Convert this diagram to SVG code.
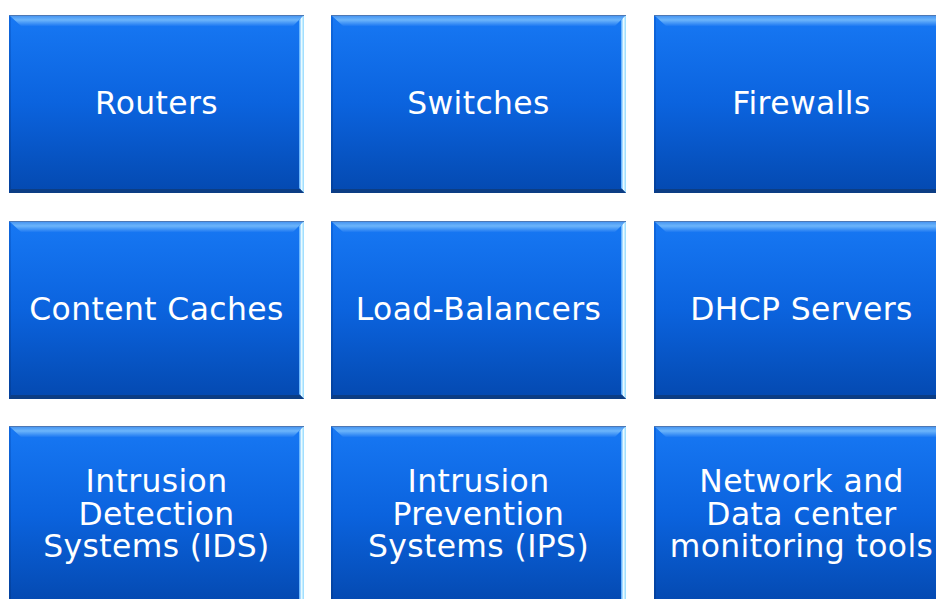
<svg xmlns="http://www.w3.org/2000/svg" xmlns:xlink="http://www.w3.org/1999/xlink" width="936" height="599" viewBox="0 0 936 599">
  <defs>
    <style>
      .label { font-family: "DejaVu Sans", Verdana, sans-serif; font-size: 31.4px; letter-spacing: 0.4px; fill: #ffffff; text-anchor: middle; }
    </style>
    <!-- face gradient -->
    <linearGradient id="face" x1="0" y1="0" x2="0" y2="1">
      <stop offset="0" stop-color="#1778f4"/>
      <stop offset="0.5" stop-color="#0b63de"/>
      <stop offset="1" stop-color="#0449b0"/>
    </linearGradient>
    <!-- top bevel highlight -->
    <linearGradient id="bevelTop" x1="0" y1="0" x2="0" y2="1">
      <stop offset="0" stop-color="#3f8ff0"/>
      <stop offset="0.45" stop-color="#6cb5fb"/>
      <stop offset="1" stop-color="#1d79f2"/>
    </linearGradient>
    <!-- right bevel highlight -->
    <linearGradient id="bevelRight" x1="0" y1="0" x2="1" y2="0">
      <stop offset="0" stop-color="#4aa6ff"/>
      <stop offset="0.5" stop-color="#e8fbff"/>
      <stop offset="1" stop-color="#8fd8ff"/>
    </linearGradient>
    <linearGradient id="bevelLeft" x1="0" y1="0" x2="0" y2="1">
      <stop offset="0" stop-color="#0f68e0"/>
      <stop offset="1" stop-color="#03409c"/>
    </linearGradient>

    <!-- one bevelled tile, 295 x 178 -->
    <g id="tile">
      <rect x="0" y="0" width="295" height="178" fill="url(#face)"/>
      <polygon points="0,0 2,2 2,176 0,178" fill="url(#bevelLeft)"/>
      <polygon points="0,0 295,0 284,11 12,11" fill="url(#bevelTop)"/>
      <polygon points="295,0 295,178 290,173 290,5" fill="url(#bevelRight)"/>
      <polygon points="0,178 295,178 291,174 2,174" fill="#0c3d84"/>
      <rect x="0" y="0" width="295" height="1" fill="#4d78b4"/>
    </g>
  </defs>

  <rect width="936" height="599" fill="#ffffff"/>

  <g id="routers">
    <use xlink:href="#tile" x="9" y="15"/>
    <text class="label" x="156.5" y="114">Routers</text>
  </g>
  <g id="switches">
    <use xlink:href="#tile" x="331" y="15"/>
    <text class="label" x="478.5" y="114">Switches</text>
  </g>
  <g id="firewalls">
    <use xlink:href="#tile" x="654" y="15"/>
    <text class="label" x="801.5" y="114">Firewalls</text>
  </g>

  <g id="content-caches">
    <use xlink:href="#tile" x="9" y="221"/>
    <text class="label" x="156.5" y="320">Content Caches</text>
  </g>
  <g id="load-balancers">
    <use xlink:href="#tile" x="331" y="221"/>
    <text class="label" x="478.5" y="320">Load-Balancers</text>
  </g>
  <g id="dhcp-servers">
    <use xlink:href="#tile" x="654" y="221"/>
    <text class="label" x="801.5" y="320">DHCP Servers</text>
  </g>

  <g id="ids">
    <use xlink:href="#tile" x="9" y="426"/>
    <text class="label" x="156.5" y="492">Intrusion</text>
    <text class="label" x="156.5" y="524.5">Detection</text>
    <text class="label" x="156.5" y="557">Systems (IDS)</text>
  </g>
  <g id="ips">
    <use xlink:href="#tile" x="331" y="426"/>
    <text class="label" x="478.5" y="492">Intrusion</text>
    <text class="label" x="478.5" y="524.5">Prevention</text>
    <text class="label" x="478.5" y="557">Systems (IPS)</text>
  </g>
  <g id="monitoring-tools">
    <use xlink:href="#tile" x="654" y="426"/>
    <text class="label" x="801.5" y="492">Network and</text>
    <text class="label" x="801.5" y="524.5">Data center</text>
    <text class="label" x="801.5" y="557">monitoring tools</text>
  </g>
</svg>
